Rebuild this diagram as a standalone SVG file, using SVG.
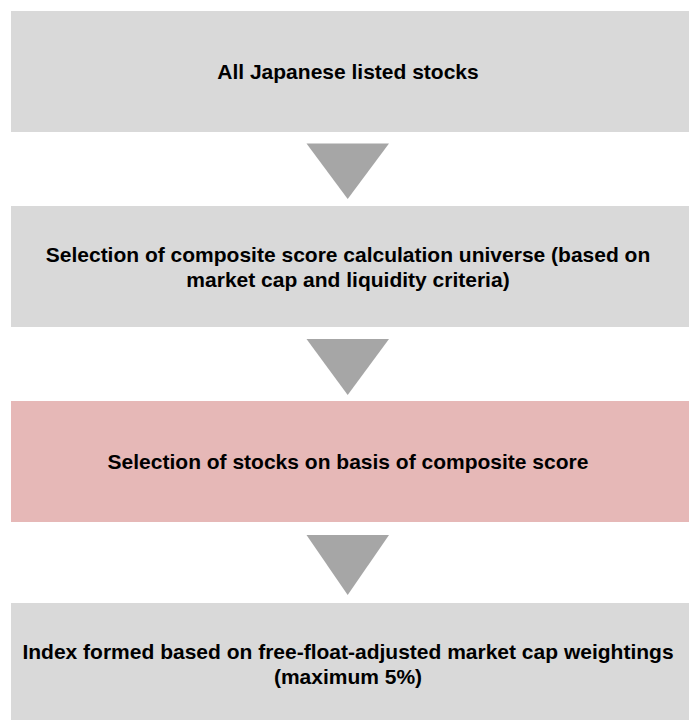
<svg xmlns="http://www.w3.org/2000/svg" width="689" height="720" viewBox="0 0 689 720">
<style>
.box{fill:#D9D9D9}
.hi{fill:#E6B8B7}
.lbl{font-family:"Liberation Sans",Arial,Helvetica,sans-serif;font-weight:bold;font-size:21px;fill:#000;text-anchor:middle}
.arr{fill:#A6A6A6}
</style>
<rect width="689" height="720" fill="#fff"/>
<g id="node-all-stocks">
<rect class="box" x="11" y="11" width="690" height="121"/>
<text class="lbl" x="348" y="79">All Japanese listed stocks</text>
</g>
<g id="node-universe">
<rect class="box" x="11" y="206" width="690" height="121"/>
<text class="lbl" x="348" y="261.5">Selection of composite score calculation universe (based on</text>
<text class="lbl" x="348" y="286.5">market cap and liquidity criteria)</text>
</g>
<g id="node-selection">
<rect class="hi" x="11" y="401" width="690" height="121"/>
<text class="lbl" x="348" y="469">Selection of stocks on basis of composite score</text>
</g>
<g id="node-index">
<rect class="box" x="11" y="603" width="690" height="130"/>
<text class="lbl" x="348" y="658.5">Index formed based on free-float-adjusted market cap weightings</text>
<text class="lbl" x="348" y="683.5">(maximum 5%)</text>
</g>
<g id="connectors">
<polygon class="arr" points="306.5,143.5 389,143.5 347.7,199"/>
<polygon class="arr" points="306.5,339 389,339 347.7,395"/>
<polygon class="arr" points="306.5,535 389,535 347.7,595"/>
</g>
</svg>
